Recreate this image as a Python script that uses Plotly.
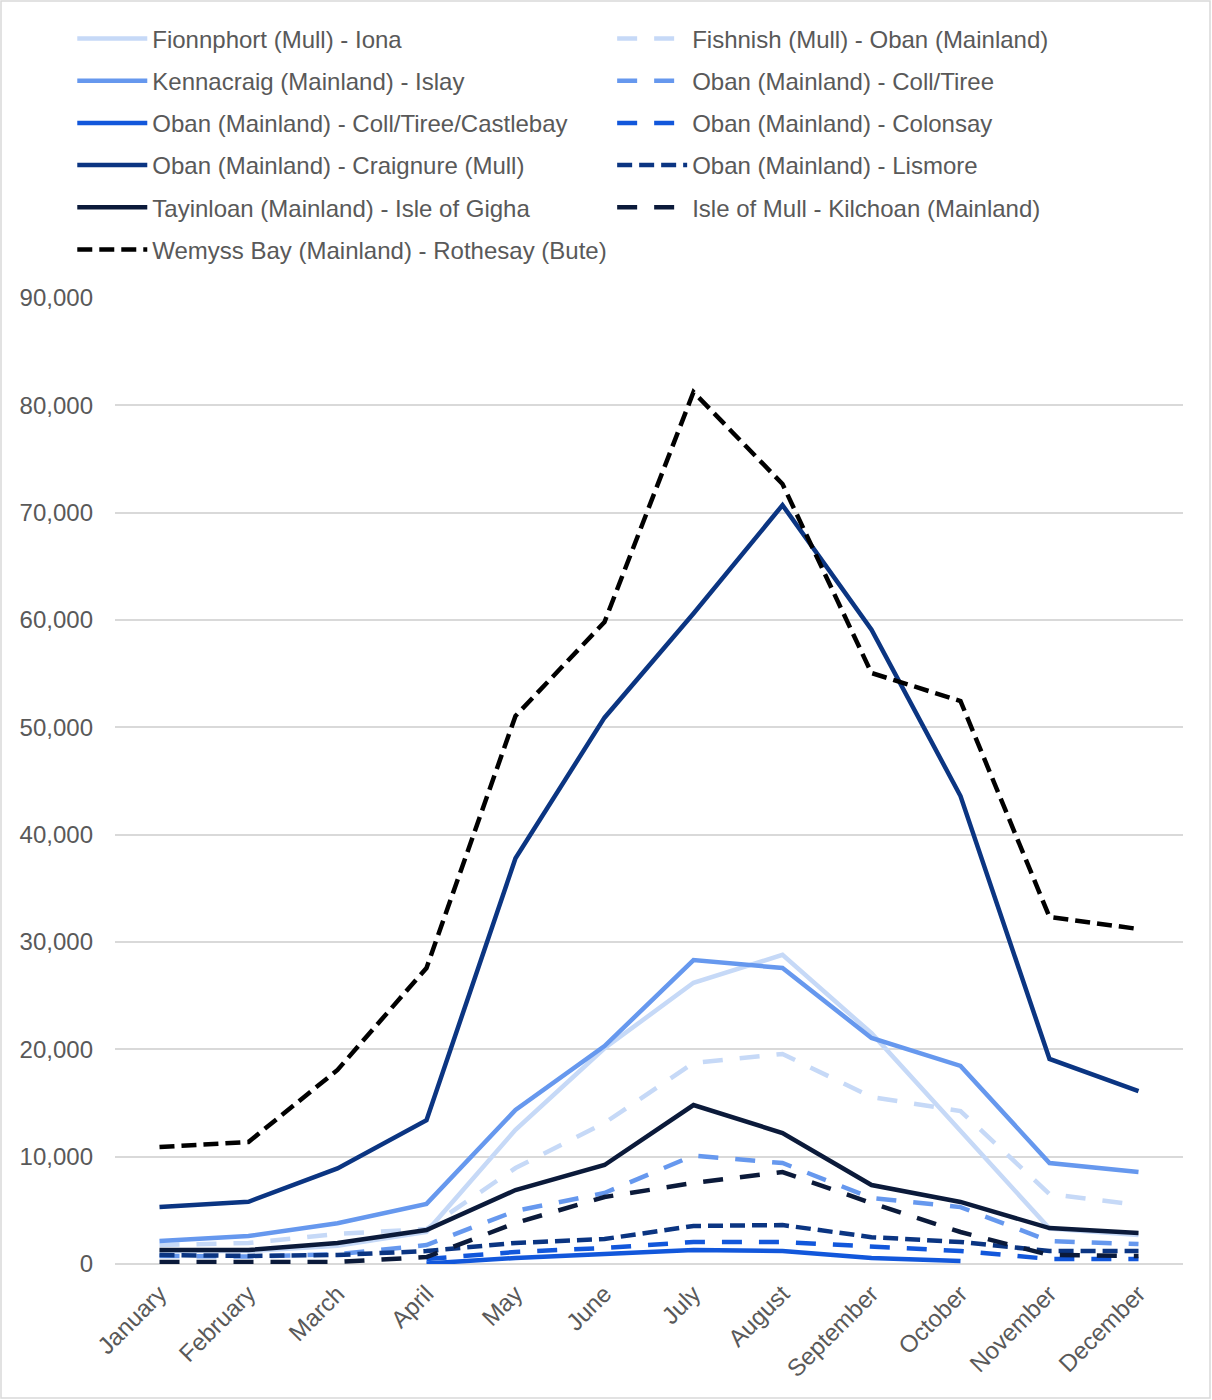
import plotly.graph_objects as go

months = ["January", "February", "March", "April", "May", "June", "July",
          "August", "September", "October", "November", "December"]

fionnphort_iona = [1200, 1200, 1700, 3000, 12500, 20100, 26200, 28800, 21500, 12400, 3300, 2700]
fishnish_oban = [1770, 1960, 2800, 3260, 8940, 13140, 18730, 19570, 15560, 14250, 6520, 5500]
kennacraig_islay = [2140, 2610, 3800, 5600, 14350, 20300, 28320, 27580, 21060, 18450, 9410, 8570]
oban_coll_tiree = [750, 700, 900, 1770, 4940, 6620, 10100, 9410, 6150, 5300, 2140, 1860]
oban_coll_tiree_castlebay = [None, None, None, 50, 560, 930, 1300, 1210, 560, 280, None, None]
oban_colonsay = [None, None, None, 470, 1120, 1490, 2050, 2050, 1580, 1210, 470, 470]
oban_craignure = [5300, 5800, 8900, 13400, 37800, 50900, 60600, 70700, 59100, 43600, 19100, 16100]
oban_lismore = [840, 750, 840, 1210, 1960, 2330, 3540, 3630, 2500, 2050, 1210, 1210]
tayinloan_gigha = [1300, 1300, 1960, 3170, 6890, 9220, 14810, 12200, 7360, 5780, 3350, 2890]
mull_kilchoan = [190, 190, 190, 650, 3820, 6240, 7550, 8570, 5680, 2980, 840, 750]
wemyss_rothesay = [10900, 11370, 18080, 27580, 51060, 59810, 81240, 72670, 55060, 52450, 32330, 31210]

LIGHT = "#C6D9F7"
MED = "#6698EE"
BRIGHT = "#1257DB"
DARK = "#0B3582"
NAVY = "#0B1A3A"
BLACK = "#000000"

DASH = "20px,17px"
SYSDASH = "15px,7px"

series = [
    ("Fionnphort (Mull) - Iona", fionnphort_iona, LIGHT, "solid", "legend"),
    ("Fishnish (Mull) - Oban (Mainland)", fishnish_oban, LIGHT, DASH, "legend2"),
    ("Kennacraig (Mainland) - Islay", kennacraig_islay, MED, "solid", "legend"),
    ("Oban (Mainland) - Coll/Tiree", oban_coll_tiree, MED, DASH, "legend2"),
    ("Oban (Mainland) - Coll/Tiree/Castlebay", oban_coll_tiree_castlebay, BRIGHT, "solid", "legend"),
    ("Oban (Mainland) - Colonsay", oban_colonsay, BRIGHT, DASH, "legend2"),
    ("Oban (Mainland) - Craignure (Mull)", oban_craignure, DARK, "solid", "legend"),
    ("Oban (Mainland) - Lismore", oban_lismore, DARK, SYSDASH, "legend2"),
    ("Tayinloan (Mainland) - Isle of Gigha", tayinloan_gigha, NAVY, "solid", "legend"),
    ("Isle of Mull - Kilchoan (Mainland)", mull_kilchoan, NAVY, DASH, "legend2"),
    ("Wemyss Bay (Mainland) - Rothesay (Bute)", wemyss_rothesay, BLACK, SYSDASH, "legend"),
]

fig = go.Figure()
for i, (name, vals, color, dash, leg) in enumerate(series):
    fig.add_trace(go.Scatter(
        x=months, y=vals, name=name, mode="lines",
        line=dict(color=color, width=4.5, dash=dash),
        connectgaps=False, legend=leg, legendgroup=f"g{i}",
        hoverinfo="skip",
    ))

FONT = "Liberation Sans, Arial, sans-serif"
TXT = "#595959"

legend_common = dict(
    font=dict(family=FONT, size=24, color=TXT),
    orientation="v", itemwidth=70, tracegroupgap=8,
    bgcolor="rgba(0,0,0,0)", borderwidth=0,
    xanchor="left", yanchor="top", yref="paper", xref="paper",
)

fig.update_layout(
    width=1212, height=1400,
    margin=dict(l=115, r=29, t=298, b=136, pad=0),
    paper_bgcolor="white", plot_bgcolor="white",
    font=dict(family=FONT, size=24, color=TXT),
    showlegend=True,
    legend=dict(x=-0.040, y=1.2915, **legend_common),
    legend2=dict(x=0.4655, y=1.2915, **legend_common),
    xaxis=dict(
        type="category", range=[-0.5, 11.5], showgrid=False, showline=False,
        zeroline=False, ticks="", tickangle=-45, ticklabelstandoff=10,
        tickfont=dict(family=FONT, size=24, color=TXT),
    ),
    yaxis=dict(
        range=[0, 90000], dtick=10000, tickformat=",", showgrid=True,
        gridcolor="#D9D9D9", gridwidth=2, zeroline=True, zerolinecolor="#D9D9D9",
        zerolinewidth=2, showline=False, ticks="", ticklabelstandoff=21,
        tickfont=dict(family=FONT, size=24, color=TXT),
    ),
    shapes=[dict(
        type="rect", xref="paper", yref="paper",
        x0=(1 - 115) / 1068, x1=(1210 - 115) / 1068,
        y0=(1264 - 1398) / 966, y1=(1264 - 1) / 966,
        line=dict(color="#D9D9D9", width=1.5), fillcolor="rgba(0,0,0,0)",
        layer="below",
    )],
)

fig.write_html(
    "out.html",
    config={"displayModeBar": False},
    post_script="document.body.style.margin='0';document.body.style.overflow='hidden';",
)
